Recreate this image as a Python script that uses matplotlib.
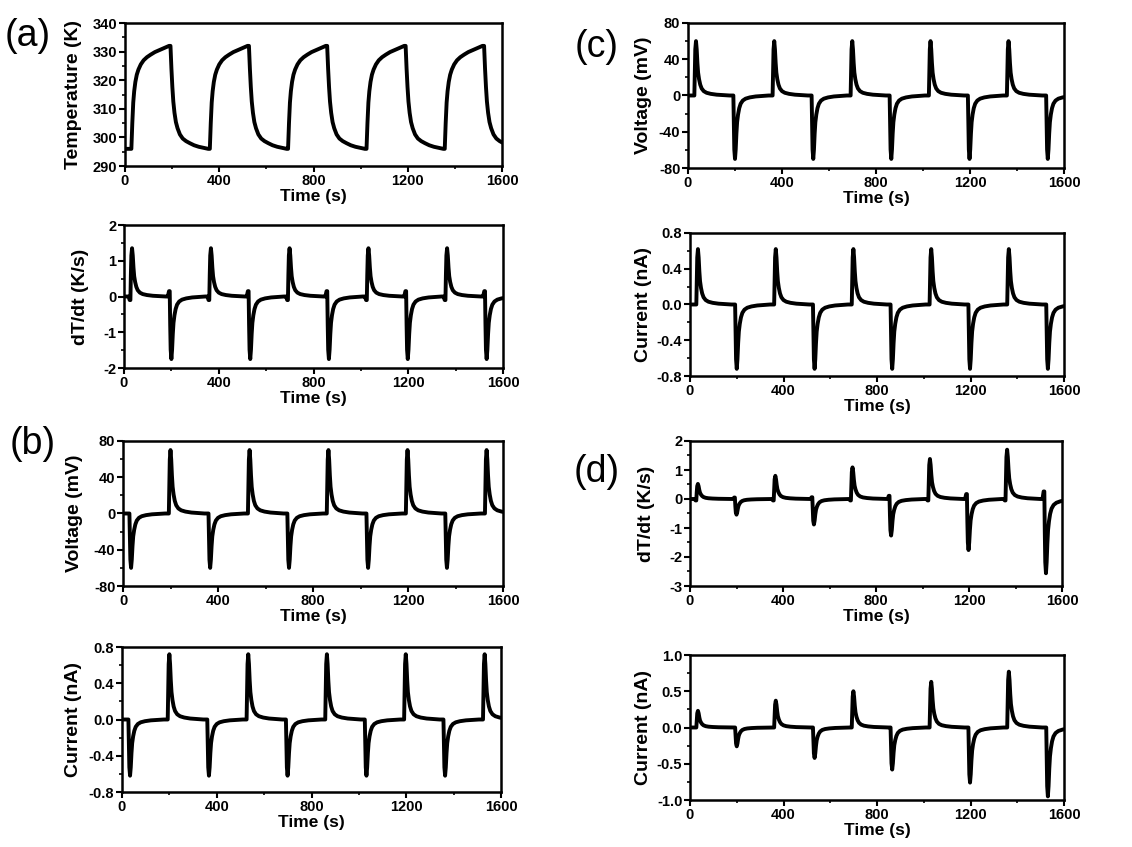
import matplotlib
matplotlib.use("Agg")
import matplotlib.pyplot as plt
from matplotlib.ticker import MultipleLocator, FormatStrFormatter

plt.rcParams['font.family'] = ['Liberation Sans', 'DejaVu Sans']
plt.rcParams['axes.unicode_minus'] = False

# switching times (s)
heat_on = [27, 360, 692, 1025, 1357]
cool_on = [193, 526, 858, 1191, 1524]

# temperature: cold / hot levels (K) and step response
T_cold = 296
T_hot = 332
heat_t = [0, 4, 8, 12, 17, 23, 30, 40, 52, 66, 82, 100, 120, 140, 160]
heat_f = [0, 0.25, 0.45, 0.56, 0.65, 0.72, 0.77, 0.82, 0.86, 0.89, 0.915, 0.94, 0.96, 0.98, 1.0]
cool_t = [0, 4, 8, 12, 17, 23, 30, 40, 52, 66, 82, 100, 120, 140, 160]
cool_f = [0, 0.22, 0.4, 0.54, 0.65, 0.74, 0.8, 0.86, 0.9, 0.925, 0.945, 0.965, 0.98, 0.99, 1.0]

# normalised spike shape (offset from switching, s) read from the spikes
spike_t = [0, 2, 4, 7, 10, 13, 16, 20, 25, 31, 40, 52, 70, 95, 130, 150]
spike_v = [0, 0.45, 0.85, 1.0, 0.85, 0.6, 0.42, 0.3, 0.2, 0.13, 0.08, 0.05, 0.03, 0.015, 0.005, 0]

# peak values per cycle for each panel
a_dTdt_heat = [1.35, 1.35, 1.35, 1.35, 1.35]
a_dTdt_cool = [-1.75, -1.75, -1.75, -1.75, -1.75]
a_dTdt_heat_pre = [-0.1, -0.1, -0.1, -0.1, -0.1]
a_dTdt_cool_pre = [0.15, 0.15, 0.15, 0.15, 0.15]

b_volt_heat = [-60, -60, -60, -60, -60]
b_volt_cool = [70, 70, 70, 70, 70]
b_curr_heat = [-0.62, -0.62, -0.62, -0.62, -0.62]
b_curr_cool = [0.72, 0.72, 0.72, 0.72, 0.72]

c_volt_heat = [60, 60, 60, 60, 60]
c_volt_cool = [-70, -70, -70, -70, -70]
c_curr_heat = [0.62, 0.62, 0.62, 0.62, 0.62]
c_curr_cool = [-0.72, -0.72, -0.72, -0.72, -0.72]

d_dTdt_heat = [0.52, 0.8, 1.09, 1.38, 1.7]
d_dTdt_cool = [-0.54, -0.88, -1.26, -1.76, -2.56]
d_dTdt_heat_pre = [-0.05, -0.05, -0.05, -0.05, -0.05]
d_dTdt_cool_pre = [0.05, 0.06, 0.11, 0.17, 0.26]
d_curr_heat = [0.23, 0.37, 0.5, 0.63, 0.77]
d_curr_cool = [-0.26, -0.42, -0.58, -0.76, -0.95]

zeros = [0, 0, 0, 0, 0]


def temperature():
    t, v = [0], [T_cold]
    for h, c in zip(heat_on, cool_on):
        t += [h + x for x in heat_t]
        v += [T_cold + (T_hot - T_cold) * f for f in heat_f]
        t += [c + x for x in cool_t]
        v += [T_hot - (T_hot - T_cold) * f for f in cool_f]
    return t, v


def spikes(hamp, camp, hpre=zeros, cpre=zeros):
    t, v = [0], [0]
    for i in range(5):
        for t0, a, p in ((heat_on[i], hamp[i], hpre[i]), (cool_on[i], camp[i], cpre[i])):
            t += [t0 - 8, t0 - 3, t0]
            v += [0, p, p]
            t += [t0 + x for x in spike_t[1:]]
            v += [a * s for s in spike_v[1:]]
    return t, v


fig = plt.figure(figsize=(11.32, 8.47), dpi=100)
W, H = 1132, 847

# (left, right, top, bottom, label right edge) in pixels
boxes = [
    (125, 502, 23, 166, 82),
    (124, 503, 225, 368, 89),
    (123, 503, 441, 586, 83),
    (122, 501, 647, 792, 82),
    (688, 1064, 23, 168, 652),
    (690, 1064, 233, 376, 652),
    (690, 1062, 441, 586, 655),
    (690, 1064, 655, 800, 652),
]

panels = [
    (temperature(), 'Temperature (K)', (290, 340), 10, 5, '%d'),
    (spikes(a_dTdt_heat, a_dTdt_cool, a_dTdt_heat_pre, a_dTdt_cool_pre), 'dT/dt (K/s)', (-2, 2), 1, 0.5, '%d'),
    (spikes(b_volt_heat, b_volt_cool), 'Voltage (mV)', (-80, 80), 40, 20, '%d'),
    (spikes(b_curr_heat, b_curr_cool), 'Current (nA)', (-0.8, 0.8), 0.4, 0.2, '%.1f'),
    (spikes(c_volt_heat, c_volt_cool), 'Voltage (mV)', (-80, 80), 40, 20, '%d'),
    (spikes(c_curr_heat, c_curr_cool), 'Current (nA)', (-0.8, 0.8), 0.4, 0.2, '%.1f'),
    (spikes(d_dTdt_heat, d_dTdt_cool, d_dTdt_heat_pre, d_dTdt_cool_pre), 'dT/dt (K/s)', (-3, 2), 1, 0.5, '%d'),
    (spikes(d_curr_heat, d_curr_cool), 'Current (nA)', (-1.0, 1.0), 0.5, 0.25, '%.1f'),
]

for (l, r, top, bot, lab), ((t, v), ylab, ylim, major, minor, fmt) in zip(boxes, panels):
    ax = fig.add_axes([l / W, 1 - bot / H, (r - l) / W, (bot - top) / H])
    ax.plot(t, v, color='black', lw=2.8, solid_joinstyle='round', solid_capstyle='round')
    ax.set_xlim(0, 1600)
    ax.set_ylim(*ylim)
    ax.xaxis.set_major_locator(MultipleLocator(400))
    ax.xaxis.set_minor_locator(MultipleLocator(200))
    ax.yaxis.set_major_locator(MultipleLocator(major))
    ax.yaxis.set_minor_locator(MultipleLocator(minor))
    ax.yaxis.set_major_formatter(FormatStrFormatter(fmt))
    for s in ax.spines.values():
        s.set_linewidth(1.8)
    ax.tick_params(which='major', direction='out', length=4, width=1.5, pad=1.5,
                   labelsize=10.5)
    ax.tick_params(which='minor', direction='out', length=2.5, width=1.2)
    for lbl in ax.get_xticklabels() + ax.get_yticklabels():
        lbl.set_fontweight('bold')
    ax.set_xlabel('Time (s)', fontsize=12.5, fontweight='bold', labelpad=1)
    ax.set_ylabel(ylab, fontsize=14, fontweight='bold')
    ax.yaxis.set_label_coords((lab - l) / (r - l), 0.5)

for txt, x, y in [('(a)', 5, 36), ('(b)', 10, 444), ('(c)', 575, 47), ('(d)', 574, 472)]:
    fig.text(x / W, 1 - y / H, txt, fontsize=27, ha='left', va='center')

fig.savefig('out.png', dpi=100)
